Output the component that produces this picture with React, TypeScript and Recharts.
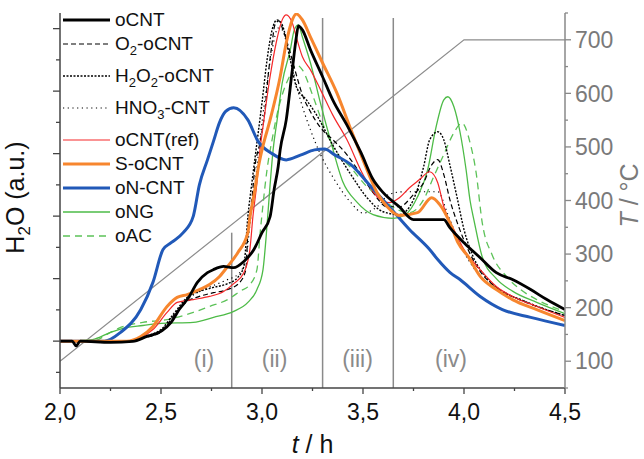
import React from 'react';
import {
  LineChart,
  Line,
  XAxis,
  YAxis,
  ReferenceLine,
  ReferenceDot,
  Label,
} from 'recharts';

const FONT = 'Liberation Sans, Arial, sans-serif';

// time axis ticks (h) and temperature ticks (°C)
const xTicks = [2, 2.25, 2.5, 2.75, 3, 3.25, 3.5, 3.75, 4, 4.25, 4.5];
const hTicks = [-1, 0, 1, 2, 3, 4, 5, 6, 7, 8, 9, 10];
const tempTicks = [50, 100, 150, 200, 250, 300, 350, 400, 450, 500, 550, 600, 650, 700, 750];

// heating program
const temp_t = [2.0, 4.0, 4.5];
const temp_T = [100, 700, 700];

// H2O signal (a.u.) per sample
const oCNT_t = [2.0, 2.06, 2.08, 2.1, 2.25, 2.36, 2.43, 2.5, 2.55, 2.59, 2.64, 2.68, 2.73, 2.76, 2.81, 2.86, 2.91, 2.96, 3.0, 3.04, 3.06, 3.08, 3.09, 3.12, 3.15, 3.17, 3.18, 3.2, 3.24, 3.3, 3.35, 3.42, 3.49, 3.55, 3.6, 3.68, 3.75, 3.82, 3.9, 3.93, 4.0, 4.08, 4.16, 4.24, 4.33, 4.41, 4.5];
const oCNT_v = [0, 0, -0.15, 0, -0.04, -0.01, 0.15, 0.31, 0.6, 1.01, 1.43, 1.88, 2.19, 2.29, 2.39, 2.35, 2.55, 2.93, 3.47, 3.98, 4.85, 5.58, 6.12, 7.08, 8.68, 9.73, 10.09, 9.96, 9.32, 8.46, 7.72, 6.92, 6.03, 5.17, 4.75, 4.3, 3.89, 3.89, 3.89, 3.63, 3.15, 2.67, 2.19, 1.97, 1.65, 1.33, 1.01];

const o2_t = [2.0, 2.33, 2.4, 2.5, 2.56, 2.63, 2.69, 2.76, 2.83, 2.89, 2.92, 2.93, 2.95, 2.965, 2.99, 3.015, 3.03, 3.05, 3.064, 3.084, 3.104, 3.14, 3.17, 3.2, 3.24, 3.29, 3.35, 3.42, 3.49, 3.55, 3.62, 3.68, 3.75, 3.8, 3.84, 3.87, 3.9, 3.93, 3.97, 4.02, 4.08, 4.16, 4.24, 4.36, 4.5];
const o2_v = [0, 0, 0.09, 0.28, 0.79, 1.27, 1.43, 1.55, 1.65, 1.88, 2.29, 3.47, 4.53, 5.58, 6.35, 7.4, 8.46, 9.54, 10.12, 10.25, 9.96, 9.22, 8.52, 7.88, 7.34, 6.83, 6.45, 5.97, 5.33, 4.75, 4.3, 4.3, 4.69, 5.07, 5.64, 5.81, 5.33, 4.53, 3.73, 2.93, 2.23, 1.72, 1.43, 1.11, 0.82];

const h2o2_t = [2.0, 2.33, 2.4, 2.5, 2.56, 2.63, 2.69, 2.76, 2.83, 2.88, 2.91, 2.93, 2.95, 2.975, 3.0, 3.025, 3.05, 3.074, 3.1, 3.14, 3.17, 3.22, 3.27, 3.35, 3.44, 3.52, 3.6, 3.68, 3.75, 3.8, 3.83, 3.87, 3.9, 3.93, 3.965, 4.0, 4.045, 4.11, 4.19, 4.28, 4.38, 4.5];
const h2o2_v = [0, 0, 0.12, 0.37, 0.85, 1.4, 1.59, 1.72, 1.84, 2.04, 2.39, 3.98, 5.07, 6.35, 7.63, 9.0, 9.96, 10.28, 10.12, 9.0, 8.14, 7.72, 7.24, 6.28, 5.33, 4.59, 4.14, 4.05, 4.53, 5.58, 6.44, 6.7, 6.44, 5.64, 4.62, 3.57, 2.71, 2.04, 1.59, 1.33, 1.07, 0.82];

const hno3_t = [2.0, 2.33, 2.4, 2.5, 2.56, 2.63, 2.69, 2.76, 2.83, 2.88, 2.92, 2.94, 2.965, 2.99, 3.02, 3.05, 3.08, 3.1, 3.14, 3.19, 3.24, 3.29, 3.35, 3.44, 3.5, 3.57, 3.63, 3.7, 3.87, 3.92, 3.97, 4.03, 4.11, 4.19, 4.28, 4.38, 4.5];
const hno3_v = [0, 0, 0.12, 0.34, 0.82, 1.33, 1.59, 1.78, 1.97, 2.13, 2.6, 3.73, 5.0, 6.44, 8.04, 9.32, 10.02, 9.96, 9.0, 7.72, 6.76, 5.97, 5.26, 4.43, 4.1, 4.3, 4.7, 4.78, 4.78, 4.05, 3.25, 2.51, 1.91, 1.56, 1.33, 1.07, 0.82];

const ref_t = [2.0, 2.33, 2.4, 2.46, 2.53, 2.58, 2.66, 2.74, 2.81, 2.86, 2.91, 2.94, 2.955, 2.975, 2.99, 3.005, 3.04, 3.07, 3.1, 3.12, 3.15, 3.17, 3.2, 3.24, 3.29, 3.35, 3.42, 3.5, 3.57, 3.63, 3.68, 3.73, 3.78, 3.83, 3.87, 3.9, 3.95, 4.0, 4.08, 4.16, 4.24, 4.36, 4.5];
const ref_v = [0, 0, 0.12, 0.37, 0.92, 1.24, 1.33, 1.43, 1.59, 1.84, 2.19, 2.93, 3.98, 5.07, 6.12, 6.86, 8.46, 9.54, 10.28, 10.44, 10.18, 9.73, 9.1, 8.68, 8.04, 7.24, 6.45, 5.33, 4.62, 4.43, 4.59, 4.91, 5.17, 5.42, 5.07, 4.3, 3.57, 2.93, 2.29, 1.75, 1.43, 1.11, 0.76];

const soCNT_t = [2.0, 2.33, 2.4, 2.46, 2.53, 2.58, 2.63, 2.69, 2.74, 2.79, 2.83, 2.88, 2.93, 2.94, 2.965, 2.98, 3.0, 3.04, 3.09, 3.12, 3.15, 3.17, 3.2, 3.24, 3.3, 3.37, 3.44, 3.5, 3.57, 3.62, 3.68, 3.77, 3.84, 3.88, 3.93, 3.97, 4.02, 4.08, 4.16, 4.24, 4.36, 4.5];
const soCNT_v = [0, 0, 0.15, 0.47, 1.11, 1.4, 1.49, 1.65, 1.81, 2.07, 2.39, 2.83, 3.47, 3.95, 4.85, 5.49, 6.12, 7.08, 8.46, 9.54, 10.28, 10.47, 10.28, 9.73, 8.9, 7.95, 6.77, 5.8, 4.75, 4.3, 4.02, 4.11, 4.59, 4.37, 3.79, 3.15, 2.71, 2.07, 1.65, 1.33, 1.01, 0.66];

const onCNT_t = [2.0, 2.22, 2.3, 2.4, 2.46, 2.51, 2.55, 2.61, 2.66, 2.69, 2.73, 2.76, 2.79, 2.82, 2.86, 2.93, 2.98, 3.05, 3.12, 3.19, 3.26, 3.31, 3.36, 3.44, 3.54, 3.63, 3.73, 3.83, 3.87, 3.93, 3.98, 4.08, 4.19, 4.33, 4.5];
const onCNT_v = [0, 0, 0.28, 1.01, 1.88, 2.93, 3.15, 3.47, 4.0, 5.0, 5.8, 6.4, 7.0, 7.35, 7.47, 7.08, 6.4, 6.0, 5.8, 5.95, 6.12, 6.15, 5.96, 5.65, 4.94, 4.3, 3.57, 2.93, 2.61, 2.2, 1.97, 1.43, 1.01, 0.76, 0.5];

const oNG_t = [2.0, 2.16, 2.25, 2.33, 2.41, 2.5, 2.66, 2.76, 2.86, 2.93, 2.975, 3.005, 3.02, 3.04, 3.055, 3.075, 3.1, 3.14, 3.16, 3.18, 3.2, 3.24, 3.29, 3.34, 3.4, 3.47, 3.55, 3.65, 3.71, 3.77, 3.82, 3.86, 3.9, 3.92, 3.95, 3.98, 4.01, 4.03, 4.05, 4.09, 4.16, 4.24, 4.36, 4.5];
const oNG_v = [0, 0.05, 0.28, 0.44, 0.5, 0.57, 0.6, 0.76, 0.95, 1.24, 1.65, 2.29, 3.3, 5.0, 6.12, 7.08, 8.26, 9.32, 9.96, 10.12, 9.73, 8.9, 7.6, 6.4, 5.1, 4.45, 4.05, 3.93, 4.05, 4.62, 5.48, 6.8, 7.72, 7.82, 7.5, 6.7, 5.5, 4.5, 3.85, 2.7, 2.0, 1.6, 1.24, 0.88];

const oAC_t = [2.0, 2.16, 2.25, 2.3, 2.41, 2.53, 2.66, 2.74, 2.83, 2.89, 2.94, 2.975, 2.99, 3.005, 3.025, 3.05, 3.074, 3.1, 3.14, 3.17, 3.2, 3.25, 3.3, 3.35, 3.44, 3.52, 3.6, 3.67, 3.73, 3.8, 3.85, 3.9, 3.95, 3.99, 4.03, 4.06, 4.09, 4.14, 4.21, 4.28, 4.36, 4.5];
const oAC_v = [0, 0, 0.28, 0.44, 0.6, 0.69, 0.92, 1.11, 1.33, 1.59, 1.81, 2.29, 3.4, 4.37, 5.49, 6.45, 7.24, 7.88, 8.52, 8.84, 8.68, 7.88, 6.98, 6.22, 5.55, 4.94, 4.53, 4.21, 4.11, 4.53, 5.26, 5.97, 6.67, 6.98, 6.35, 5.39, 3.8, 2.75, 2.07, 1.65, 1.33, 0.95];

// region boundaries (h) and their labels
const regionBounds = [2.85, 3.3, 3.65];
const regionNames = ['(i)', '(ii)', '(iii)', '(iv)'];
const regionCenters = [2.713, 3.062, 3.473, 3.936];

const zip = (ts: number[], vs: number[], key = 'v') => ts.map((t, i) => ({ t, [key]: vs[i] }));

type Part = string | { sub: string };

const series = [
  { name: ['oCNT'] as Part[], t: oCNT_t, v: oCNT_v, color: '#000000', width: 2.8, dash: undefined },
  { name: ['O', { sub: '2' }, '-oCNT'] as Part[], t: o2_t, v: o2_v, color: '#000000', width: 1.2, dash: '5 3' },
  { name: ['H', { sub: '2' }, 'O', { sub: '2' }, '-oCNT'] as Part[], t: h2o2_t, v: h2o2_v, color: '#000000', width: 1.4, dash: '2 1.5' },
  { name: ['HNO', { sub: '3' }, '-CNT'] as Part[], t: hno3_t, v: hno3_v, color: '#000000', width: 1.2, dash: '1.2 3.5' },
  { name: ['oCNT(ref)'] as Part[], t: ref_t, v: ref_v, color: '#f5282a', width: 1.2, dash: undefined },
  { name: ['S-oCNT'] as Part[], t: soCNT_t, v: soCNT_v, color: '#f7862e', width: 3, dash: undefined },
  { name: ['oN-CNT'] as Part[], t: onCNT_t, v: onCNT_v, color: '#2159b8', width: 3, dash: undefined },
  { name: ['oNG'] as Part[], t: oNG_t, v: oNG_v, color: '#4dbb47', width: 1.3, dash: undefined },
  { name: ['oAC'] as Part[], t: oAC_t, v: oAC_v, color: '#5cc258', width: 1.3, dash: '7 5' },
];

// draw order: thin ones first, thick on top
const drawOrder = [8, 7, 3, 2, 1, 4, 6, 5, 0];

const fmt = (v: number) => v.toFixed(1).replace('.', ',');

const XTick = (props: any) => {
  const { x, y, payload } = props;
  const major = Math.abs(payload.value * 2 - Math.round(payload.value * 2)) < 1e-6;
  return (
    <g>
      <line x1={x} x2={x} y1={y} y2={y + (major ? 6 : 3)} stroke="#444" strokeWidth={1.3} />
      {major && (
        <text x={x} y={y + 32} textAnchor="middle" fontSize={23} fontFamily={FONT} fill="#111">
          {fmt(payload.value)}
        </text>
      )}
    </g>
  );
};

const LeftTick = (props: any) => {
  const { x, y, payload } = props;
  const long = payload.value % 2 === 0;
  return <line x1={x} x2={x - (long ? 7 : 4)} y1={y} y2={y} stroke="#444" strokeWidth={1.3} />;
};

const RightTick = (props: any) => {
  const { x, y, payload } = props;
  const v = payload.value;
  const major = v % 100 === 0;
  return (
    <g>
      <line x1={x} x2={x + (major ? 6 : 3)} y1={y} y2={y} stroke="#888" strokeWidth={1.3} />
      {major && v >= 100 && v <= 700 && (
        <text x={x + 10} y={y} dy="0.36em" fontSize={23} fontFamily={FONT} fill="#7a7a7a">
          {v}
        </text>
      )}
    </g>
  );
};

const LeftTitle = (props: any) => {
  const { viewBox } = props;
  const cx = viewBox.x + 24;
  const cy = viewBox.y + viewBox.height / 2 - 3;
  return (
    <text
      x={cx}
      y={cy}
      transform={`rotate(-90, ${cx}, ${cy})`}
      textAnchor="middle"
      fontSize={25}
      fontFamily={FONT}
      fill="#111"
    >
      H<tspan dy={6} fontSize={17}>2</tspan>
      <tspan dy={-6}>O (a.u.)</tspan>
    </text>
  );
};

const RightTitle = (props: any) => {
  const { viewBox } = props;
  const cx = viewBox.x + 73;
  const cy = viewBox.y + viewBox.height / 2 - 5;
  return (
    <text
      x={cx}
      y={cy}
      transform={`rotate(-90, ${cx}, ${cy})`}
      textAnchor="middle"
      fontSize={25}
      fontFamily={FONT}
      fill="#7a7a7a"
    >
      <tspan fontStyle="italic">T</tspan> / °C
    </text>
  );
};

const BottomTitle = (props: any) => {
  const { viewBox } = props;
  return (
    <text
      x={viewBox.x + viewBox.width / 2}
      y={viewBox.y + 65}
      textAnchor="middle"
      fontSize={25}
      fontFamily={FONT}
      fill="#111"
    >
      <tspan fontStyle="italic">t</tspan> / h
    </text>
  );
};

const LegendBox = () => (
  <div style={{ position: 'absolute', left: 63, top: 8, fontFamily: FONT, fontSize: 19, color: '#111' }}>
    {series.map((s, i) => {
      const hasSub = s.name.some((p) => typeof p !== 'string');
      return (
        <div
          key={i}
          style={{ display: 'flex', alignItems: 'center', height: 24, lineHeight: '24px', marginBottom: hasSub ? 8 : 0 }}
        >
          <svg width={47} height={10} style={{ marginRight: 5 }}>
            <line x1={0} x2={47} y1={5} y2={5} stroke={s.color} strokeWidth={s.width} strokeDasharray={s.dash} />
          </svg>
          <span style={{ whiteSpace: 'nowrap' }}>
            {s.name.map((p, j) =>
              typeof p === 'string' ? (
                <React.Fragment key={j}>{p}</React.Fragment>
              ) : (
                <sub key={j} style={{ fontSize: 13, lineHeight: 0, verticalAlign: -5 }}>
                  {p.sub}
                </sub>
              )
            )}
          </span>
        </div>
      );
    })}
  </div>
);

export default function App() {
  return (
    <div style={{ position: 'absolute', left: 0, top: 0, width: 644, height: 459, background: '#fff' }}>
      <LineChart width={644} height={459} margin={{ top: 13, right: 0, bottom: 0, left: 0 }}>
        <XAxis
          dataKey="t"
          type="number"
          domain={[2, 4.5]}
          ticks={xTicks}
          interval={0}
          tickSize={0}
          tickMargin={0}
          tickLine={false}
          tick={<XTick />}
          height={71}
          stroke="#444"
          strokeWidth={1.5}
          allowDataOverflow
        >
          <Label content={<BottomTitle />} />
        </XAxis>
        <YAxis
          yAxisId="h"
          type="number"
          domain={[-1.5, 10.5]}
          ticks={hTicks}
          interval={0}
          width={60}
          tickSize={0}
          tickMargin={0}
          tickLine={false}
          tick={<LeftTick />}
          stroke="#444"
          strokeWidth={1.5}
          allowDataOverflow
        >
          <Label content={<LeftTitle />} />
        </YAxis>
        <YAxis
          yAxisId="T"
          orientation="right"
          type="number"
          domain={[50, 750]}
          ticks={tempTicks}
          interval={0}
          width={79}
          tickSize={0}
          tickMargin={0}
          tickLine={false}
          tick={<RightTick />}
          stroke="#888"
          strokeWidth={1.5}
          allowDataOverflow
        >
          <Label content={<RightTitle />} />
        </YAxis>

        <ReferenceLine
          yAxisId="h"
          segment={[{ x: regionBounds[0], y: -1.5 }, { x: regionBounds[0], y: 3.47 }]}
          stroke="#8a8a8a"
          strokeWidth={1.5}
        />
        <ReferenceLine
          yAxisId="h"
          segment={[{ x: regionBounds[1], y: -1.5 }, { x: regionBounds[1], y: 10.34 }]}
          stroke="#8a8a8a"
          strokeWidth={1.5}
        />
        <ReferenceLine
          yAxisId="h"
          segment={[{ x: regionBounds[2], y: -1.5 }, { x: regionBounds[2], y: 10.34 }]}
          stroke="#8a8a8a"
          strokeWidth={1.5}
        />
        {regionNames.map((n, i) => (
          <ReferenceDot
            key={n}
            yAxisId="h"
            x={regionCenters[i]}
            y={-0.58}
            r={1}
            fill="none"
            stroke="none"
            label={{ value: n, position: 'center', fill: '#8a8a8a', fontSize: 23, fontFamily: FONT }}
          />
        ))}

        <Line
          yAxisId="T"
          data={zip(temp_t, temp_T)}
          dataKey="v"
          type="linear"
          stroke="#8c8c8c"
          strokeWidth={1.2}
          dot={false}
          isAnimationActive={false}
        />
        {drawOrder.map((idx) => {
          const s = series[idx];
          return (
            <Line
              key={idx}
              yAxisId="h"
              data={zip(s.t, s.v)}
              dataKey="v"
              type="monotone"
              stroke={s.color}
              strokeWidth={s.width}
              strokeDasharray={s.dash}
              dot={false}
              isAnimationActive={false}
            />
          );
        })}
      </LineChart>
      <LegendBox />
    </div>
  );
}
